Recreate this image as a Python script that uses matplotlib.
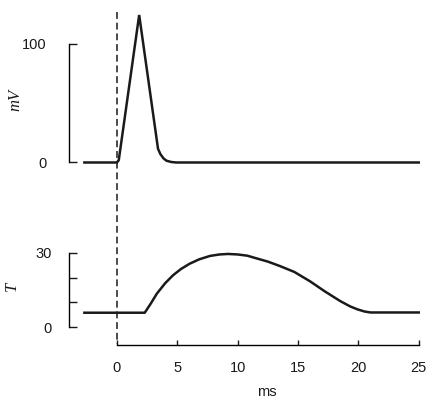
import matplotlib
matplotlib.use("Agg")
import matplotlib.pyplot as plt
from matplotlib.lines import Line2D
from matplotlib.transforms import blended_transform_factory

# Action potential (mV)
ap_t = [-2.7, 0.0, 0.15, 1.84, 3.4, 3.6, 3.85, 4.1, 4.5, 4.9, 25.0]
ap_v = [0, 0, 2, 124, 11.5, 7, 3.5, 1.5, 0.4, 0, 0]

# Tension (T)
tn_t = [-2.7, 2.3, 2.8, 3.3, 4.0, 4.65, 5.3, 6.0, 6.8, 7.7, 8.5, 9.2, 10.0,
        10.8, 11.5, 12.5, 13.5, 14.7, 16.0, 17.2, 18.5, 19.3, 19.9, 20.5,
        21.0, 25.0]
tn_v = [5.8, 5.8, 9.5, 13.5, 17.8, 21.0, 23.5, 25.6, 27.4, 28.8, 29.4, 29.6,
        29.4, 28.9, 27.9, 26.5, 24.7, 22.3, 18.5, 14.5, 10.5, 8.4, 7.2, 6.3,
        5.9, 5.9]

mv_ticks = [0, 100]
t_ticks = [0, 10, 20, 30]
t_labels = ["0", "", "", "30"]
x_ticks = [0, 5, 10, 15, 20, 25]

plt.rcParams["font.family"] = ["Liberation Sans", "DejaVu Sans"]
ink = "#1a1a1a"

fig = plt.figure(figsize=(4.3, 3.99), dpi=100)
xlim = (-4.72, 25.52)
ax1 = fig.add_axes([0.1395, 0.5865, 0.849, 0.3885])
ax2 = fig.add_axes([0.1395, 0.1228, 0.849, 0.2506])

# Top panel: membrane potential
ax1.plot(ap_t, ap_v, color=ink, lw=1.8, solid_joinstyle="miter")
ax1.set_xlim(xlim)
ax1.set_ylim(-2.1, 128.2)
for s in ["top", "right", "bottom"]:
    ax1.spines[s].set_visible(False)
ax1.spines["left"].set_position(("data", -4.0))
ax1.spines["left"].set_bounds(0, 100)
ax1.spines["left"].set_linewidth(1.0)
ax1.set_yticks(mv_ticks)
ax1.set_xticks([])
ax1.tick_params(axis="y", direction="in", length=6, width=1.0, pad=16,
                labelsize=10.5, colors=ink)

# Bottom panel: tension
ax2.plot(tn_t, tn_v, color=ink, lw=1.8)
ax2.set_xlim(xlim)
ax2.set_ylim(-9.3, 31.2)
for s in ["top", "right"]:
    ax2.spines[s].set_visible(False)
ax2.spines["left"].set_position(("data", -4.0))
ax2.spines["left"].set_bounds(0, 30)
ax2.spines["bottom"].set_position(("data", -7.1))
ax2.spines["bottom"].set_bounds(0, 25)
for s in ["left", "bottom"]:
    ax2.spines[s].set_linewidth(1.0)
ax2.set_yticks(t_ticks)
ax2.set_yticklabels(t_labels)
ax2.set_xticks(x_ticks)
ax2.tick_params(axis="y", direction="in", length=6, width=1.0, pad=12,
                labelsize=10.5, colors=ink)
ax2.tick_params(axis="x", direction="in", length=3.6, width=1.0, pad=12,
                labelsize=10.5, colors=ink)

# Axis titles
fig.text(15 / 430, 1 - 100 / 399, "mV", rotation=90, ha="center",
         va="center", family="Liberation Serif", style="italic",
         fontsize=12, color=ink)
fig.text(12 / 430, 1 - 286 / 399, "T", rotation=90, ha="center",
         va="center", family="Liberation Serif", style="italic",
         fontsize=12, color=ink)
fig.text(267 / 430, 1 - 392 / 399, "ms", ha="center", va="center",
         fontsize=10.5, color=ink)

# Stimulus marker across both panels
tr = blended_transform_factory(ax1.transData, fig.transFigure)
fig.add_artist(Line2D([0, 0], [1 - 12 / 399, 1 - 344 / 399], transform=tr,
                      color=ink, lw=1.1, ls=(0, (4.5, 2.5))))

fig.savefig("out.png", dpi=100)
